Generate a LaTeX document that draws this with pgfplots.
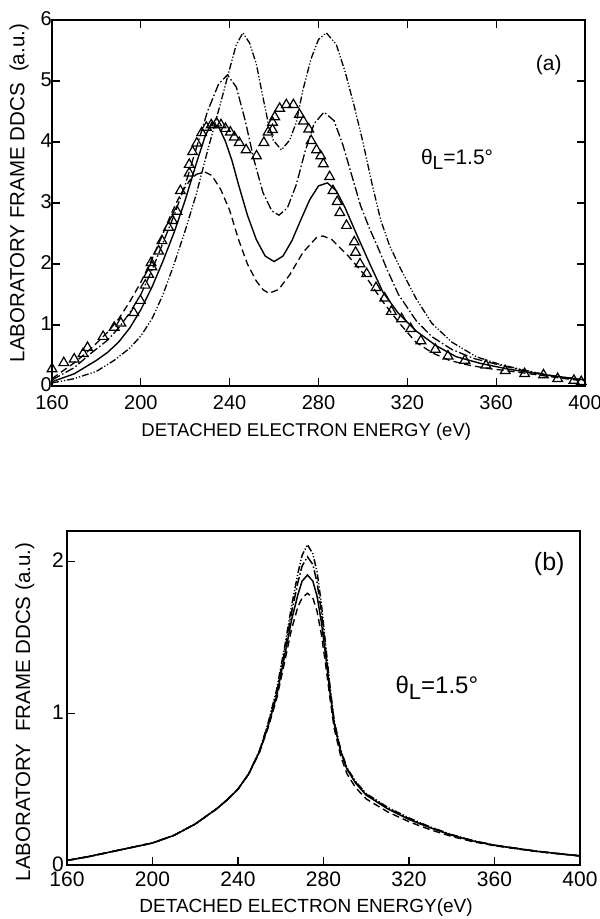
\documentclass[border=0pt]{standalone}
\usepackage{pgfplots}
\pgfplotsset{compat=1.18}
\usepackage{fontspec}
\setmainfont{Liberation Sans}
\pgfplotsset{
  dashdotdot/.style={line width=1.3pt, dash pattern=on 7pt off 2pt on 1.2pt off 2pt on 1.2pt off 2pt},
  dashdot/.style={line width=1.3pt, dash pattern=on 9pt off 2.5pt on 1.5pt off 2.5pt},
  dashedD/.style={line width=1.3pt, dash pattern=on 7pt off 4pt},
  solidC/.style={line width=1.4pt},
}
\begin{document}
\begin{tikzpicture}[x=1pt,y=1pt]
\useasboundingbox (0,0) rectangle (600,919);
% ---------------- (a) ----------------
\begin{axis}[
  at={(52pt,533pt)}, anchor=south west,
  width=533pt, height=366pt, scale only axis,
  xmin=160, xmax=400, ymin=0, ymax=6,
  xtick={160,200,...,400}, ytick={0,1,...,6},
  tick align=inside, major tick length=8pt,
  xtick pos=both, ytick pos=both,
  /pgf/number format/assume math mode=true,
  ticklabel style={font=\fontsize{20}{22}\selectfont},
  xticklabel style={yshift=-8pt, inner sep=1pt},
  yticklabel style={xshift=1pt, yshift=1pt, inner sep=1pt},
  axis line style={line width=1.2pt},
  every tick/.style={line width=1.1pt, black},
  xlabel={DETACHED ELECTRON ENERGY (eV)},
  ylabel={LABORATORY FRAME DDCS\ \ (a.u.)},
  xlabel style={font=\fontsize{18.5}{20}\selectfont, at={(axis description cs:0.477,-0.125)}, anchor=center},
  ylabel style={font=\fontsize{20.5}{22}\selectfont, at={(axis description cs:-0.062,0.527)}, anchor=center},
  clip=true,
]
% A: dash-dot-dot
\addplot[dashdotdot] coordinates {
(160,0.05)(170,0.12)(180,0.24)(188,0.42)(195,0.62)(200,0.82)(205,1.1)(210,1.5)(215,2.0)(220,2.55)(225,3.15)(230,3.85)(233,4.25)(236,4.65)(240,5.2)(243,5.6)(246,5.79)(249,5.62)(252,5.28)(254.4,4.84)(257.3,4.32)(259.6,4.03)(263.3,3.87)(267,4.03)(270,4.32)(272.9,4.84)(276.6,5.36)(280,5.68)(283.5,5.79)(288,5.6)(292,5.15)(296,4.6)(300,4.0)(304,3.33)(308,2.72)(312,2.3)(317,1.92)(324,1.43)(331,1.03)(340,0.72)(351,0.48)(362,0.35)(374,0.25)(386,0.16)(400,0.10)};
% B: dash-dot
\addplot[dashdot] coordinates {
(160,0.1)(170,0.3)(178,0.55)(185,0.75)(190,0.95)(195,1.2)(200,1.5)(205,1.9)(210,2.35)(215,2.8)(220,3.3)(225,3.9)(230,4.5)(235,4.95)(239,5.10)(243,4.9)(247,4.35)(251,3.7)(255,3.17)(259,2.87)(262.2,2.80)(266,2.92)(270,3.3)(274,3.85)(278,4.3)(282.5,4.49)(287,4.35)(291,3.95)(295,3.45)(299,2.95)(303,2.58)(307,2.25)(311,1.9)(316,1.5)(324,1.07)(331,0.81)(340,0.6)(350,0.45)(362,0.34)(374,0.24)(386,0.16)(400,0.10)};
% C: solid
\addplot[solidC] coordinates {
(160,0.07)(170,0.2)(180,0.42)(185,0.55)(190,0.72)(195,0.95)(200,1.25)(205,1.62)(210,2.05)(215,2.52)(220,3.05)(225,3.65)(229,4.1)(232,4.32)(235,4.25)(238,4.02)(241,3.7)(244,3.3)(248,2.8)(252,2.4)(256,2.13)(260,2.04)(264,2.13)(268,2.38)(272,2.72)(276,3.05)(280,3.28)(284,3.33)(288,3.2)(292,2.92)(297,2.5)(303,2.01)(309,1.54)(316,1.19)(324,0.9)(333,0.66)(342,0.48)(353,0.37)(365,0.28)(377,0.21)(389,0.15)(400,0.10)};
% D: dashed
\addplot[dashedD] coordinates {
(160,0.12)(165,0.25)(170,0.38)(175,0.53)(180,0.7)(185,0.88)(190,1.1)(195,1.38)(200,1.7)(205,2.08)(210,2.5)(214,2.85)(218,3.15)(222,3.37)(225,3.47)(228.7,3.51)(232,3.45)(236,3.22)(240,2.88)(244,2.4)(248,2.0)(252,1.72)(255,1.58)(257.6,1.52)(262,1.58)(267,1.82)(273,2.19)(279,2.43)(282,2.46)(286,2.4)(293.4,2.13)(301,1.81)(308.6,1.40)(316.2,1.04)(323.8,0.72)(331.4,0.54)(339,0.42)(346.6,0.35)(355.7,0.29)(364.9,0.25)(377,0.19)(389,0.13)(400,0.08)};
% experiment: triangles
\addplot[only marks, mark=triangle, mark size=5.6pt, mark options={line width=1.2pt, black, fill=white}] coordinates {
(160,0.28)(165.3,0.38)(170,0.44)(174,0.53)(176,0.63)(183,0.81)(188,0.96)(191,1.03)(196.8,1.20)(199.8,1.40)(202,1.65)(203.5,1.83)(204.6,2.02)(205,1.95)(208,2.21)(209.5,2.38)(212.5,2.60)(214.3,2.71)(216.3,2.86)(217.8,3.20)(221.8,3.49)(221.8,3.63)(223.3,3.84)(225.2,3.98)(227.4,4.15)(229.5,4.24)(231.7,4.28)(234.1,4.31)(236.1,4.28)(238.1,4.22)(240.3,4.16)(242.1,4.08)(244.3,3.99)(247.4,3.87)(252.1,3.77)(255.4,3.99)(257.3,4.16)(259.3,4.20)(259.3,4.32)(260.3,4.41)(262.5,4.55)(265.5,4.61)(268.7,4.61)(271.4,4.45)(273.2,4.34)(275.6,4.21)(276.7,4.02)(279.1,3.87)(281,3.77)(282.2,3.64)(285,3.43)(286.5,3.20)(288.4,3.02)(289.6,2.84)(292.6,2.63)(296.1,2.36)(296.7,2.19)(298.7,2.00)(301.7,1.84)(305.9,1.61)(309.8,1.44)(312.8,1.22)(317.4,1.10)(321.5,0.94)(326.1,0.74)(332.6,0.60)(338.3,0.49)(345.9,0.42)(355.4,0.34)(364.1,0.25)(372.8,0.20)(381.3,0.18)(387.7,0.12)(395,0.09)(398.3,0.07)};
\node[font=\fontsize{21}{23}\selectfont] at (rel axis cs:0.932,0.877) {(a)};
\node[font=\fontsize{21}{23}\selectfont] at (rel axis cs:0.76,0.62) {θ\raisebox{-0.45ex}{\fontsize{19}{20}\selectfont L}=1.5°};
\end{axis}
% ---------------- (b) ----------------
\begin{axis}[
  at={(67pt,54pt)}, anchor=south west,
  width=513pt, height=334pt, scale only axis,
  xmin=160, xmax=400, ymin=0, ymax=2.2,
  xtick={160,200,...,400}, ytick={0,1,2},
  tick align=inside, major tick length=8pt,
  xtick pos=bottom, ytick pos=left,
  /pgf/number format/assume math mode=true,
  ticklabel style={font=\fontsize{21}{23}\selectfont},
  xticklabel style={yshift=-6pt, inner sep=1pt},
  yticklabel style={yshift=1pt, inner sep=1pt, xshift=-2pt},
  axis line style={line width=1.2pt},
  every tick/.style={line width=1.1pt, black},
  xlabel={DETACHED ELECTRON ENERGY(eV)},
  ylabel={LABORATORY\ \ FRAME DDCS (a.u.)},
  xlabel style={font=\fontsize{19}{21}\selectfont, at={(axis description cs:0.466,-0.127)}, anchor=center},
  ylabel style={font=\fontsize{20.5}{22}\selectfont, at={(axis description cs:-0.082,0.458)}, anchor=center},
]
\addplot[dashdotdot, line width=1.5pt] coordinates {
(160,0.03)(170,0.055)(180,0.085)(190,0.115)(200,0.145)(210,0.195)(220,0.27)(230,0.37)(235,0.43)(240,0.5)(245,0.6)(250,0.75)(254,0.93)(258,1.15)(262,1.45)(265,1.7)(268,1.92)(270,2.04)(272.5,2.11)(275,2.05)(277,1.93)(279,1.72)(281,1.45)(283,1.18)(285,0.95)(288,0.76)(291,0.64)(295,0.55)(300,0.47)(310,0.38)(320,0.31)(330,0.25)(340,0.2)(350,0.16)(360,0.13)(370,0.11)(380,0.09)(390,0.075)(400,0.06)};
\addplot[dashdot, line width=1.5pt] coordinates {
(160,0.03)(170,0.055)(180,0.085)(190,0.115)(200,0.145)(210,0.195)(220,0.27)(230,0.37)(235,0.43)(240,0.5)(245,0.6)(250,0.75)(254,0.92)(258,1.13)(262,1.42)(265,1.66)(268,1.86)(270,1.97)(272.5,2.03)(275,1.98)(277,1.86)(279,1.67)(281,1.42)(283,1.16)(285,0.94)(288,0.755)(291,0.635)(295,0.545)(300,0.465)(310,0.375)(320,0.305)(330,0.248)(340,0.198)(350,0.16)(360,0.13)(370,0.11)(380,0.09)(390,0.075)(400,0.06)};
\addplot[solidC, line width=1.5pt] coordinates {
(160,0.03)(170,0.055)(180,0.085)(190,0.115)(200,0.145)(210,0.195)(220,0.27)(230,0.37)(235,0.43)(240,0.5)(245,0.6)(250,0.745)(254,0.91)(258,1.11)(262,1.39)(265,1.61)(268,1.78)(270,1.87)(272.5,1.91)(275,1.87)(277,1.77)(279,1.6)(281,1.38)(283,1.14)(285,0.93)(288,0.75)(291,0.63)(295,0.54)(300,0.46)(310,0.37)(320,0.3)(330,0.245)(340,0.196)(350,0.158)(360,0.13)(370,0.11)(380,0.09)(390,0.075)(400,0.06)};
\addplot[dashedD, line width=1.4pt] coordinates {
(160,0.03)(170,0.055)(180,0.085)(190,0.115)(200,0.145)(210,0.195)(220,0.27)(230,0.37)(235,0.43)(240,0.5)(245,0.6)(250,0.74)(254,0.9)(258,1.09)(262,1.35)(265,1.55)(268,1.7)(270,1.76)(272.5,1.79)(275,1.76)(277,1.67)(279,1.52)(281,1.32)(283,1.1)(285,0.9)(288,0.72)(291,0.6)(295,0.51)(300,0.435)(310,0.35)(320,0.285)(330,0.232)(340,0.188)(350,0.153)(360,0.127)(370,0.107)(380,0.088)(390,0.073)(400,0.06)};
\node[font=\fontsize{25}{27}\selectfont] at (rel axis cs:0.94,0.9) {(b)};
\node[font=\fontsize{24}{26}\selectfont] at (rel axis cs:0.721,0.53) {θ\raisebox{-0.45ex}{\fontsize{22}{24}\selectfont L}=1.5°};
\end{axis}
\end{tikzpicture}
\end{document}
